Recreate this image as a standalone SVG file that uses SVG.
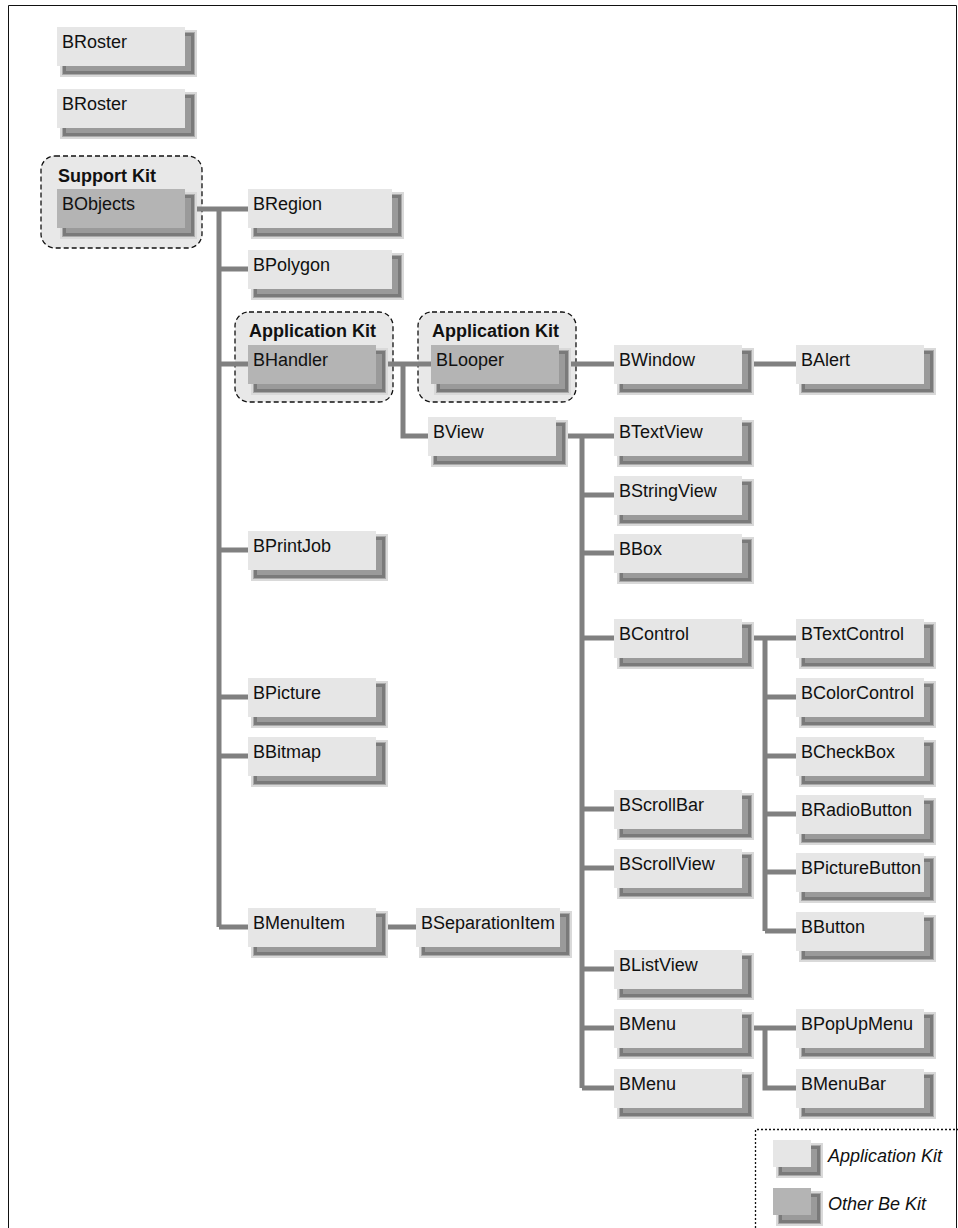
<svg xmlns="http://www.w3.org/2000/svg" xmlns:xlink="http://www.w3.org/1999/xlink" width="958" height="1228" viewBox="0 0 958 1228">
<style>
text{font-family:"Liberation Sans",Arial,sans-serif;font-size:18px;fill:#111}
.b{font-weight:bold}
.i{font-style:italic}
.lt{fill:#e6e6e6}
.dk{fill:#b4b4b4}
.kit{fill:#e8e8e8;stroke:#111;stroke-width:1.3;stroke-dasharray:5 3}
.c{fill:none;stroke:#808080;stroke-width:5}
</style>
<defs>
<g id="sh128">
<rect x="3" y="3" width="137" height="47" fill="#d9d9d9"/>
<rect x="5" y="5" width="133" height="43" fill="#a9a9a9"/>
<rect x="7.5" y="7.5" width="128" height="38" fill="#9a9a9a" stroke="#7a7a7a" stroke-width="3"/>
</g>
<g id="sh144">
<rect x="3" y="3" width="153" height="47" fill="#d9d9d9"/>
<rect x="5" y="5" width="149" height="43" fill="#a9a9a9"/>
<rect x="7.5" y="7.5" width="144" height="38" fill="#9a9a9a" stroke="#7a7a7a" stroke-width="3"/>
</g>
<g id="shlg">
<rect x="3" y="3" width="47" height="35" fill="#d9d9d9"/>
<rect x="5" y="5" width="43" height="31" fill="#a9a9a9"/>
<rect x="7.5" y="7.5" width="38" height="26" fill="#9a9a9a" stroke="#7a7a7a" stroke-width="3"/>
</g>
</defs>
<rect width="958" height="1228" fill="#fff"/>
<path d="M8.5,1228 V5.5 H956.5 V1228" fill="none" stroke="#111" stroke-width="1"/>

<g id="kit-support"><rect class="kit" x="41" y="156" width="161" height="92" rx="14"/><text class="b" x="58" y="182">Support Kit</text></g>
<g id="kit-app1"><rect class="kit" x="235" y="312" width="158" height="90" rx="14"/><text class="b" x="249" y="337">Application Kit</text></g>
<g id="kit-app2"><rect class="kit" x="418" y="312" width="158" height="90" rx="14"/><text class="b" x="432" y="337">Application Kit</text></g>

<g id="connectors">
<path class="c" d="M185,209 H248 M219,209 V927 M219,269 H248 M219,364 H248 M219,550 H248 M219,697 H248 M219,756 H248 M219,927 H248"/>
<path class="c" d="M376,364 H431 M403,364 V436 H428 M559,364 H614 M742,364 H796"/>
<path class="c" d="M555,436 H614 M582,436 V1088 M582,495 H614 M582,553 H614 M582,638 H614 M582,809 H614 M582,868 H614 M582,969 H614 M582,1028 H614 M582,1088 H614"/>
<path class="c" d="M742,638 H796 M765,638 V931 M765,697 H796 M765,756 H796 M765,814 H796 M765,872 H796 M765,931 H796"/>
<path class="c" d="M742,1028 H796 M765,1028 V1088 H796"/>
<path class="c" d="M376,927 H416"/>
</g>

<g id="n-broster1" transform="translate(57,27)"><use xlink:href="#sh128"/><rect class="lt" width="128" height="39"/><text x="5" y="21">BRoster</text></g>
<g id="n-broster2" transform="translate(57,89)"><use xlink:href="#sh128"/><rect class="lt" width="128" height="39"/><text x="5" y="21">BRoster</text></g>
<g id="n-bobjects" transform="translate(57,189)"><use xlink:href="#sh128"/><rect class="dk" width="128" height="39"/><text x="5" y="21">BObjects</text></g>

<g id="n-bregion" transform="translate(248,189)"><use xlink:href="#sh144"/><rect class="lt" width="144" height="39"/><text x="5" y="21">BRegion</text></g>
<g id="n-bpolygon" transform="translate(248,250)"><use xlink:href="#sh144"/><rect class="lt" width="144" height="39"/><text x="5" y="21">BPolygon</text></g>
<g id="n-bhandler" transform="translate(248,345)"><use xlink:href="#sh128"/><rect class="dk" width="128" height="39"/><text x="5" y="21">BHandler</text></g>
<g id="n-blooper" transform="translate(431,345)"><use xlink:href="#sh128"/><rect class="dk" width="128" height="39"/><text x="5" y="21">BLooper</text></g>
<g id="n-bwindow" transform="translate(614,345)"><use xlink:href="#sh128"/><rect class="lt" width="128" height="39"/><text x="5" y="21">BWindow</text></g>
<g id="n-balert" transform="translate(796,345)"><use xlink:href="#sh128"/><rect class="lt" width="128" height="39"/><text x="5" y="21">BAlert</text></g>
<g id="n-bview" transform="translate(428,417)"><use xlink:href="#sh128"/><rect class="lt" width="128" height="39"/><text x="5" y="21">BView</text></g>
<g id="n-bprintjob" transform="translate(248,531)"><use xlink:href="#sh128"/><rect class="lt" width="128" height="39"/><text x="5" y="21">BPrintJob</text></g>
<g id="n-bpicture" transform="translate(248,678)"><use xlink:href="#sh128"/><rect class="lt" width="128" height="39"/><text x="5" y="21">BPicture</text></g>
<g id="n-bbitmap" transform="translate(248,737)"><use xlink:href="#sh128"/><rect class="lt" width="128" height="39"/><text x="5" y="21">BBitmap</text></g>
<g id="n-bmenuitem" transform="translate(248,908)"><use xlink:href="#sh128"/><rect class="lt" width="128" height="39"/><text x="5" y="21">BMenuItem</text></g>
<g id="n-bseparationitem" transform="translate(416,908)"><use xlink:href="#sh144"/><rect class="lt" width="144" height="39"/><text x="5" y="21">BSeparationItem</text></g>

<g id="n-btextview" transform="translate(614,417)"><use xlink:href="#sh128"/><rect class="lt" width="128" height="39"/><text x="5" y="21">BTextView</text></g>
<g id="n-bstringview" transform="translate(614,476)"><use xlink:href="#sh128"/><rect class="lt" width="128" height="39"/><text x="5" y="21">BStringView</text></g>
<g id="n-bbox" transform="translate(614,534)"><use xlink:href="#sh128"/><rect class="lt" width="128" height="39"/><text x="5" y="21">BBox</text></g>
<g id="n-bcontrol" transform="translate(614,619)"><use xlink:href="#sh128"/><rect class="lt" width="128" height="39"/><text x="5" y="21">BControl</text></g>
<g id="n-bscrollbar" transform="translate(614,790)"><use xlink:href="#sh128"/><rect class="lt" width="128" height="39"/><text x="5" y="21">BScrollBar</text></g>
<g id="n-bscrollview" transform="translate(614,849)"><use xlink:href="#sh128"/><rect class="lt" width="128" height="39"/><text x="5" y="21">BScrollView</text></g>
<g id="n-blistview" transform="translate(614,950)"><use xlink:href="#sh128"/><rect class="lt" width="128" height="39"/><text x="5" y="21">BListView</text></g>
<g id="n-bmenu1" transform="translate(614,1009)"><use xlink:href="#sh128"/><rect class="lt" width="128" height="39"/><text x="5" y="21">BMenu</text></g>
<g id="n-bmenu2" transform="translate(614,1069)"><use xlink:href="#sh128"/><rect class="lt" width="128" height="39"/><text x="5" y="21">BMenu</text></g>

<g id="n-btextcontrol" transform="translate(796,619)"><use xlink:href="#sh128"/><rect class="lt" width="128" height="39"/><text x="5" y="21">BTextControl</text></g>
<g id="n-bcolorcontrol" transform="translate(796,678)"><use xlink:href="#sh128"/><rect class="lt" width="128" height="39"/><text x="5" y="21">BColorControl</text></g>
<g id="n-bcheckbox" transform="translate(796,737)"><use xlink:href="#sh128"/><rect class="lt" width="128" height="39"/><text x="5" y="21">BCheckBox</text></g>
<g id="n-bradiobutton" transform="translate(796,795)"><use xlink:href="#sh128"/><rect class="lt" width="128" height="39"/><text x="5" y="21">BRadioButton</text></g>
<g id="n-bpicturebutton" transform="translate(796,853)"><use xlink:href="#sh128"/><rect class="lt" width="128" height="39"/><text x="5" y="21">BPictureButton</text></g>
<g id="n-bbutton" transform="translate(796,912)"><use xlink:href="#sh128"/><rect class="lt" width="128" height="39"/><text x="5" y="21">BButton</text></g>
<g id="n-bpopupmenu" transform="translate(796,1009)"><use xlink:href="#sh128"/><rect class="lt" width="128" height="39"/><text x="5" y="21">BPopUpMenu</text></g>
<g id="n-bmenubar" transform="translate(796,1069)"><use xlink:href="#sh128"/><rect class="lt" width="128" height="39"/><text x="5" y="21">BMenuBar</text></g>

<g id="legend">
<path d="M755.5,1228 V1129.5 H958" fill="none" stroke="#111" stroke-width="1.3" stroke-dasharray="2 2"/>
<g transform="translate(773,1140)"><use xlink:href="#shlg"/><rect class="lt" width="38" height="27"/></g>
<text class="i" x="828" y="1162">Application Kit</text>
<g transform="translate(773,1188)"><use xlink:href="#shlg"/><rect class="dk" width="38" height="27"/></g>
<text class="i" x="828" y="1210">Other Be Kit</text>
</g>
</svg>
